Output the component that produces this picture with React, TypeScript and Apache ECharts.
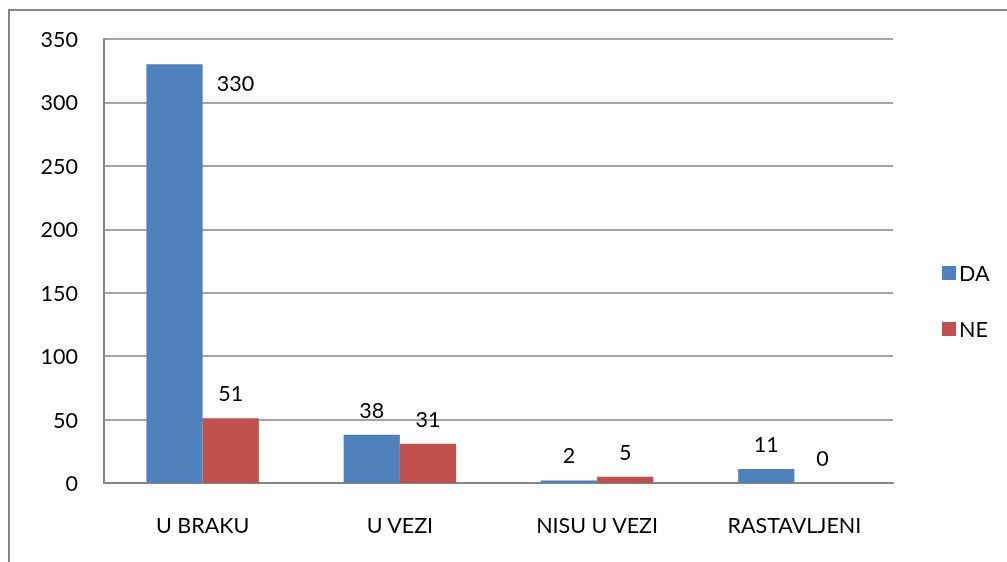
import React, { useEffect, useRef } from "react";
import * as echarts from "echarts";

const categories = ["U BRAKU", "U VEZI", "NISU U VEZI", "RASTAVLJENI"];
const daValues = [330, 38, 2, 11];
const neValues = [51, 31, 5, 0];
const yTicks = { min: 0, max: 350, interval: 50 };

export default function App() {
  const ref = useRef<HTMLDivElement>(null);
  useEffect(() => {
    const chart = echarts.init(ref.current!, null, { renderer: "svg" });
    const font = "Lato, 'Open Sans', sans-serif";
    const fs = 21.5;
    chart.setOption({
      animation: false,
      textStyle: { fontFamily: font },
      graphic: [
        {
          type: "rect",
          shape: { x: 9, y: 10, width: 1100, height: 600 },
          style: { fill: "none", stroke: "#868686", lineWidth: 2 },
          silent: true,
        },
      ],
      grid: { left: 104, right: 114, top: 39, bottom: 79, containLabel: false },
      legend: {
        orient: "vertical",
        left: 937,
        top: 257,
        itemWidth: 14,
        itemHeight: 14,
        itemGap: 34,
        icon: "rect",
        textStyle: { fontSize: fs, color: "#000", fontFamily: font, padding: [0, 0, 0, -2] },
        data: ["DA", "NE"],
      },
      xAxis: {
        type: "category",
        data: categories,
        axisLine: { lineStyle: { color: "#868686", width: 2 } },
        axisTick: { show: false },
        axisLabel: { fontSize: fs, color: "#000", margin: 31, fontFamily: font },
      },
      yAxis: {
        type: "value",
        min: yTicks.min,
        max: yTicks.max,
        interval: yTicks.interval,
        axisLine: { show: true, lineStyle: { color: "#868686", width: 2 } },
        axisTick: { show: false },
        splitLine: { lineStyle: { color: "#868686", width: 1.5 } },
        axisLabel: { fontSize: fs, color: "#000", margin: 26, fontFamily: font },
      },
      series: [
        {
          name: "DA",
          type: "bar",
          barCategoryGap: "43%",
          barGap: "0%",
          itemStyle: { color: "#4F81BD" },
          label: { show: true, position: "top", distance: 14, fontSize: fs, color: "#000", fontFamily: font },
          data: daValues.map((v, i) =>
            i === 0 ? { value: v, label: { offset: [61, 44] } } : v
          ),
        },
        {
          name: "NE",
          type: "bar",
          itemStyle: { color: "#C0504D" },
          label: { show: true, position: "top", distance: 14, fontSize: fs, color: "#000", fontFamily: font },
          data: neValues,
        },
      ],
    });
    return () => chart.dispose();
  }, []);
  return <div ref={ref} style={{ position: "fixed", left: 0, top: 0, width: 1007, height: 562 }} />;
}
